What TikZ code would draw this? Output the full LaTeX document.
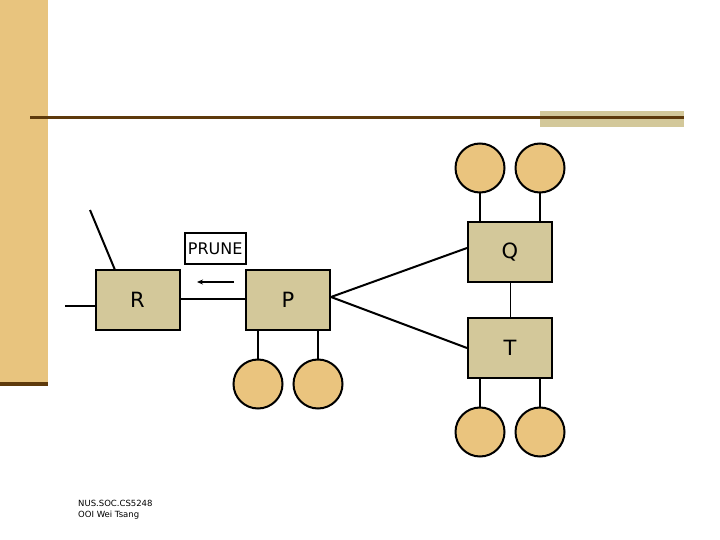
\documentclass[tikz,border=0pt]{standalone}
\usepackage{fontspec}
\setmainfont{DejaVu Sans}
\usetikzlibrary{arrows.meta}
\definecolor{bartan}{HTML}{E8C47E}
\definecolor{barbrown}{HTML}{5E3A0C}
\definecolor{boxtan}{HTML}{D3C89A}
\definecolor{circtan}{HTML}{EAC47E}
\begin{document}
\begin{tikzpicture}[x=1pt,y=-1pt,
  router/.style={draw=black,line width=2pt,fill=boxtan,minimum width=84pt,minimum height=60pt,inner sep=0pt,font=\fontsize{21}{21}\selectfont},
  host/.style={circle,draw=black,line width=2pt,fill=circtan,minimum size=49pt,inner sep=0pt},
  link/.style={line width=2pt},
  thinlink/.style={line width=1pt}]
\useasboundingbox (0,0) rectangle (720,540);
% decoration
\fill[bartan] (0,0) rectangle (48,382);
\fill[barbrown] (0,382) rectangle (48,386);
\fill[boxtan] (540,111) rectangle (684,127);
\fill[barbrown] (30,116) rectangle (684,119);
% routers
\node[router] (R) at (137.5,300) {R};
\node[router] (P) at (288,300) {P};
\node[router] (Q) at (510,252) {Q};
\node[router] (T) at (510,348) {T};
% hosts
\node[host] (q1) at (480,168) {};
\node[host] (q2) at (540,168) {};
\node[host] (t1) at (480,432) {};
\node[host] (t2) at (540,432) {};
\node[host] (p1) at (258,384) {};
\node[host] (p2) at (318,384) {};
% free ends
\coordinate (rl) at (65,306);
\coordinate (rd) at (90,210);
% connectors
\draw[link] (rl) -- (R.west |- rl);
\draw[link] (rd) -- (115,270);
\draw[link] (R.east |- 0,299) -- (P.west |- 0,299);
\draw[link] (P.east |- 0,297) -- (Q.west |- 0,248);
\draw[link] (P.east |- 0,297) -- (T.west |- 0,348);
\draw[thinlink] (Q.south) -- (T.north);
\draw[link] (q1.south) -- (q1.south |- Q.north);
\draw[link] (q2.south) -- (q2.south |- Q.north);
\draw[link] (t1.north) -- (t1.north |- T.south);
\draw[link] (t2.north) -- (t2.north |- T.south);
\draw[link] (p1.north) -- (p1.north |- P.south);
\draw[link] (p2.north) -- (p2.north |- P.south);
% prune message
\node[draw=black,line width=1.6pt,fill=white,minimum width=61pt,minimum height=31pt,inner sep=1pt,font=\fontsize{16}{16}\selectfont] (prune) at (215.5,248.5) {\hspace{-0.5pt}PRUNE};
\coordinate (a1) at (234,282);
\coordinate (a2) at (197,282);
\draw[line width=1.6pt,-{Stealth[length=6pt,width=5pt]}] (a1) -- (a2);
% footer
\node[anchor=west,inner sep=0pt,font=\fontsize{8.5}{10}\selectfont] (f1) at (78,503) {NUS.SOC.CS5248};
\node[anchor=west,inner sep=0pt,font=\fontsize{8.5}{10}\selectfont] (f2) at (78,515) {OOI Wei Tsang};
\end{tikzpicture}
\end{document}
